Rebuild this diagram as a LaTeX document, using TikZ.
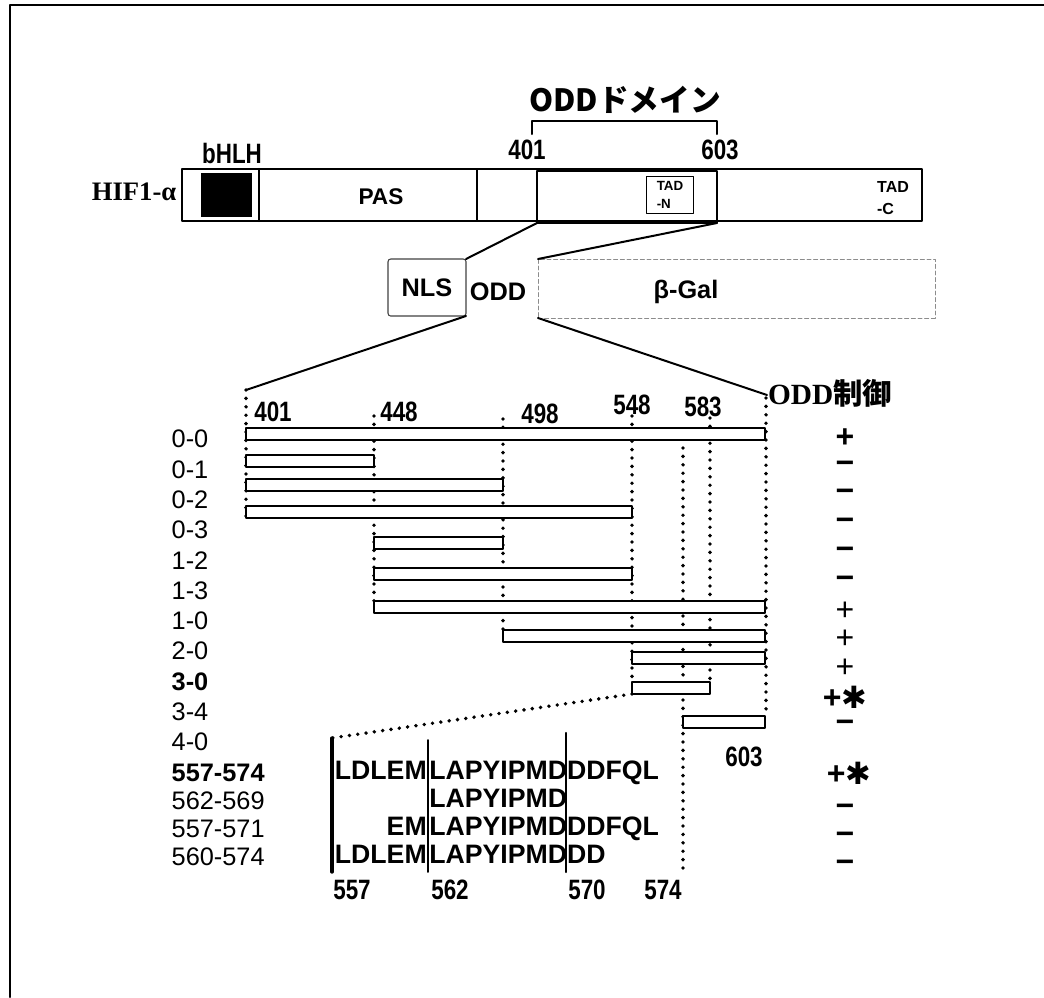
\documentclass[tikz,border=0pt]{standalone}
\usepackage{fontspec}
\setmainfont{Liberation Sans}
\newfontfamily\numfont[FakeStretch=0.8]{Liberation Sans}
\newfontfamily\seriffont{Liberation Serif}
\newfontfamily\cjkfont{Noto Sans CJK JP}
\newfontfamily\symfont{DejaVu Sans}
\usetikzlibrary{calc,positioning}
\newcommand{\setfs}[1]{\fontsize{#1}{#1}\selectfont}
\newcommand{\astx}{{\symfont\fontsize{23}{23}\selectfont ✱}}

\begin{document}
\begin{tikzpicture}[
		x=0.75pt,
		y=-0.75pt,
		line cap=round,
		line join=round,
		frag/.style={draw, fill=white, line width=1.5pt},
		dotcol/.style={line width=2.9pt, dash pattern=on 0pt off 6.3pt},
		posnum/.style={font=\numfont\bfseries\setfs{21}},
		rowlbl/.style={anchor=west, font=\setfs{19}},
		seqtxt/.style={font=\bfseries\setfs{20}, inner sep=0pt},
		sign/.style={font=\bfseries\setfs{24}, inner sep=0pt}
		]
		\useasboundingbox (0,0) rectangle (1044,997);
		
		%------------------------------------------------------------------
		% Frame
		%------------------------------------------------------------------
		\draw[line width=1.5pt] (10,997) -- (10,5) -- (1044,5);
		
		%------------------------------------------------------------------
		% HIF1-alpha domain bar
		%------------------------------------------------------------------
		\node[anchor=east, font=\seriffont\bfseries\setfs{20}] (hif) at (181,192) {HIF1-α};
		\draw[line width=2.2pt] (182,169) rectangle (922,221);
		\fill[black] (201,173) rectangle (252,217);
		\draw[line width=1.8pt] (259,169) -- (259,221);
		\draw[line width=1.2pt] (477,169) -- (477,221);
		\node[draw, line width=2.2pt, outer sep=0pt, minimum width=135pt, minimum height=39pt] (oddreg) at (627,197) {};
		\node[draw, line width=0.9pt, outer sep=0pt, minimum width=35pt, minimum height=28pt,
		align=left, font=\bfseries\fontsize{10}{13}\selectfont] (tadn) at (670,195) {TAD\\-N};
		\node[align=left, font=\bfseries\fontsize{12}{16}\selectfont] (tadc) at (893,198) {TAD\\-C};
		\node[font=\bfseries\setfs{17}] (pas) at (381,197) {PAS};
		\node[posnum] (bhlh) at (232,153) {bHLH};
		
		% ODD domain bracket
		\node[font=\cjkfont\bfseries\setfs{23}] (odddom) at (625,100) {ODDドメイン};
		\draw[line width=1.5pt] (532,134) -- (532,121) -- (717,121) -- (717,134);
		\node[posnum] (n401) at (527,150) {401};
		\node[posnum] (n603) at (720,150) {603};
		
		%------------------------------------------------------------------
		% NLS-ODD-beta-Gal construct
		%------------------------------------------------------------------
		\node[draw=black!75, line width=0.8pt, rounded corners=2pt, outer sep=0pt,
		minimum width=58.5pt, minimum height=42.75pt, font=\bfseries\setfs{19}] (nls) at (427,287.5) {NLS};
		\node[font=\bfseries\setfs{19}] (oddlbl) at (498,292) {ODD};
		\node[draw=black!45, densely dashed, line width=0.7pt, outer sep=0pt,
		minimum width=297.75pt, minimum height=44.25pt] (bgal) at (736.5,288.5) {};
		\node[font=\bfseries\setfs{19}] (bgallbl) at (686,292) {β-Gal};
		
		\node[font=\bfseries\setfs{22}] (oddctl) at (830,393) {{\seriffont ODD}{\cjkfont 制御}};
		
		\coordinate (c401) at (246,390);
		\coordinate (c603) at (767,395);
		
		\draw[line width=1.5pt] (oddreg.south west) -- (nls.north east);
		\draw[line width=1.5pt] (oddreg.south east) -- (bgal.north west);
		\draw[line width=1.5pt] (nls.south east) -- (c401);
		\draw[line width=1.5pt] (bgal.south west) -- (c603);
		
		%------------------------------------------------------------------
		% Deletion fragments
		%------------------------------------------------------------------
		\foreach \xc/\ya/\yb in {246/390/518, 374/416/601, 503/419/630, 632/416/683,
			683/448/870, 710/418/684, 766/398/717}
		\draw[dotcol] (\xc,\ya) -- (\xc,\yb);
		
		\node[posnum] (p401) at (273,412) {401};
		\node[posnum] (p448) at (399,412) {448};
		\node[posnum] (p498) at (540,414) {498};
		\node[posnum] (p548) at (632,405) {548};
		\node[posnum] (p583) at (703,407) {583};
		
		\foreach \xa/\xb/\yc in {246/765/434, 246/374/461, 246/503/485, 246/632/512,
			374/503/543, 374/632/574, 374/765/607, 503/765/636, 632/765/658,
			632/710/688, 683/765/722}
		\draw[frag] (\xa,\yc-6) rectangle (\xb,\yc+6);
		
		\foreach \lbl [count=\i from 0] in {0-0,0-1,0-2,0-3,1-2,1-3,1-0,2-0,{\bfseries 3-0},3-4,4-0}
		\node[rowlbl] (row\i) at (167,{439+30.3*\i}) {\lbl};
		
		\foreach \sg [count=\i from 0] in {+,−,−,−,−,−,{\mdseries +},{\mdseries +},{\mdseries +},{+\astx},−}
		\node[sign] (sg\i) at (845,{438+28.8*\i}) {\sg};
		
		\node[posnum] (p603) at (744,757) {603};
		
		%------------------------------------------------------------------
		% Peptide sequences
		%------------------------------------------------------------------
		\coordinate (b10) at (632,694);
		\coordinate (s557) at (332,738);
		\draw[dotcol] (b10) -- (s557);
		\draw[line width=2.5pt] (s557) -- (332,872);
		\draw[line width=1.4pt] (428,740) -- (428,872);
		\draw[line width=1.8pt] (566,733) -- (566,872);
		
		\node[rowlbl, font=\bfseries\setfs{19}] (row11) at (167,773) {557-574};
		\node[rowlbl] (row12) at (167,801) {562-569};
		\node[rowlbl] (row13) at (167,829) {557-571};
		\node[rowlbl] (row14) at (167,857) {560-574};
		
		\node[seqtxt, anchor=base east] (sq1a) at (427,779) {LDLEM};
		\node[seqtxt, anchor=base west] (sq1b) at (429,779) {LAPYIPMDDDFQL};
		\node[seqtxt, anchor=base west] (sq2b) at (429,807) {LAPYIPMD};
		\node[seqtxt, anchor=base east] (sq3a) at (427,835) {EM};
		\node[seqtxt, anchor=base west] (sq3b) at (429,835) {LAPYIPMDDDFQL};
		\node[seqtxt, anchor=base east] (sq4a) at (427,863) {LDLEM};
		\node[seqtxt, anchor=base west] (sq4b) at (429,863) {LAPYIPMDDD};
		
		\node[sign] (sg11) at (849,773) {+\astx};
		\node[sign] (sg12) at (845,810) {−};
		\node[sign] (sg13) at (845,838) {−};
		\node[sign] (sg14) at (845,866) {−};
		
		\node[posnum] (q557) at (352,890) {557};
		\node[posnum] (q562) at (450,890) {562};
		\node[posnum] (q570) at (587,890) {570};
		\node[posnum] (q574) at (663,890) {574};
		
	\end{tikzpicture}
\end{document}
